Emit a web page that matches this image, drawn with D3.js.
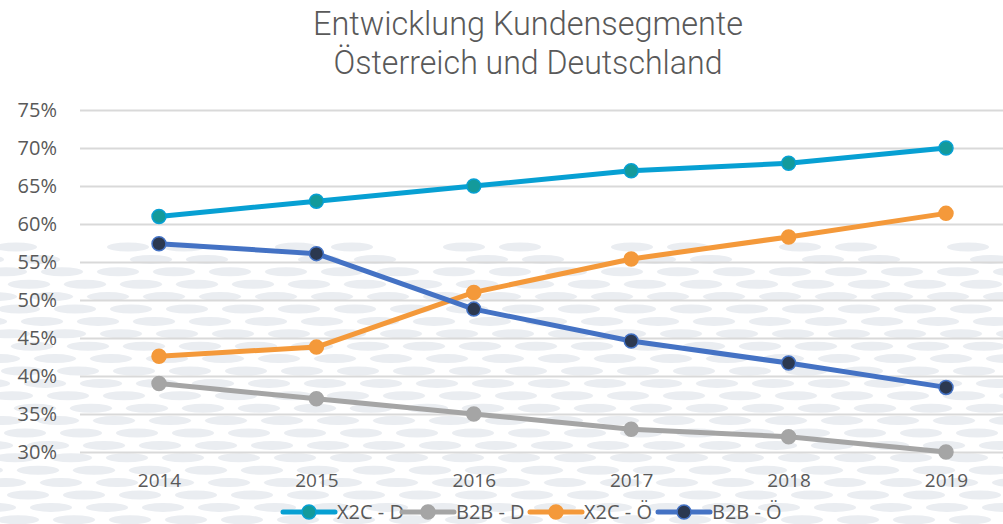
<!DOCTYPE html>
<html lang="de">
  <head>
    <meta charset="utf-8">
    <title>Entwicklung Kundensegmente</title>
    <script src="https://cdn.jsdelivr.net/npm/d3@7"></script>
    <style>
      body { margin: 0; background: #fff; }
      text { font-family: "Open Sans", sans-serif; fill: #595959; }
      .title { font-family: Roboto, sans-serif; font-weight: 300; }
    </style>
  </head>

  <body>
    <div id="chart"></div>

    <script>
      // chart values
      const years = ["2014", "2015", "2016", "2017", "2018", "2019"];
      const seriesNames = ["X2C - D", "B2B - D", "X2C - Ö", "B2B - Ö"];
      const x2cD = [61, 63, 65, 67, 68, 70];
      const b2bD = [39, 37, 35, 33, 32, 30];
      const x2cOe = [42.6, 43.8, 51.0, 55.4, 58.3, 61.4];
      const b2bOe = [57.4, 56.1, 48.8, 44.6, 41.7, 38.5];
      const yTicks = [30, 35, 40, 45, 50, 55, 60, 65, 70, 75];
      const titleLines = ["Entwicklung Kundensegmente", "Österreich und Deutschland"];

      // styles per series
      const styles = [
        {line: "#07a0d3", fill: "#139a9b", stroke: "#07a0d3"},
        {line: "#a5a5a5", fill: "#a5a5a5", stroke: "#a5a5a5"},
        {line: "#f4993a", fill: "#f4993a", stroke: "#f4993a"},
        {line: "#4472c4", fill: "#2b3850", stroke: "#4472c4"}
      ];
      const allValues = [x2cD, b2bD, x2cOe, b2bOe];

      const W = 1003, H = 524;
      const svg = d3.select("#chart").append("svg")
        .attr("width", W).attr("height", H);

      // background ellipse texture
      const bg = svg.append("g");
      let row = 0;
      for (let yy = 247; yy < H + 6; yy += 12.4) {
        const shift = (row * 23) % 56;
        for (let xx = -40 + shift; xx < W + 40; xx += 56) {
          if (row < 2 && ((xx + row * 7) % 3 === 0)) continue;
          bg.append("ellipse")
            .attr("cx", xx).attr("cy", yy)
            .attr("rx", 21).attr("ry", 4.5)
            .attr("fill", "#eaedf1");
        }
        row++;
      }

      // scales
      const x = d3.scalePoint().domain(years).range([159, 946]);
      const y = d3.scaleLinear().domain([30, 75]).range([452, 110]);

      // gridlines
      svg.append("g")
        .attr("transform", "translate(80,0)")
        .call(d3.axisRight(y).tickValues(yTicks).tickSize(W - 80).tickFormat(""))
        .call(g => g.select(".domain").remove())
        .call(g => g.selectAll("line").attr("stroke", "#d9d9d9").attr("stroke-width", 2));

      // y axis labels
      svg.append("g")
        .attr("transform", "translate(59,0)")
        .call(d3.axisLeft(y).tickValues(yTicks).tickSize(0).tickPadding(2).tickFormat(d => d + "%"))
        .call(g => g.select(".domain").remove())
        .call(g => g.selectAll("text").attr("font-size", 20).style("font-family", '"Open Sans", sans-serif').attr("fill", "#595959"));

      // x axis labels
      svg.append("g")
        .attr("transform", "translate(0,469)")
        .call(d3.axisBottom(x).tickSize(0).tickPadding(4))
        .call(g => g.select(".domain").remove())
        .call(g => g.selectAll("text").attr("font-size", 19).style("font-family", '"Open Sans", sans-serif').attr("fill", "#595959"));

      // lines and markers
      const line = d3.line()
        .x((d, i) => x(years[i]))
        .y(d => y(d));

      allValues.forEach(function(vals, k) {
        const s = styles[k];
        svg.append("path")
          .datum(vals)
          .attr("fill", "none")
          .attr("stroke", s.line)
          .attr("stroke-width", 5)
          .attr("stroke-linejoin", "round")
          .attr("d", line);
        svg.append("g").selectAll("circle")
          .data(vals)
          .join("circle")
            .attr("cx", (d, i) => x(years[i]))
            .attr("cy", d => y(d))
            .attr("r", 7)
            .attr("fill", s.fill)
            .attr("stroke", s.stroke)
            .attr("stroke-width", 1.5);
      });

      // title (condensed to match the original narrow face)
      const titleWidths = [430, 389];
      svg.append("g").selectAll("text")
        .data(titleLines)
        .join("text")
          .attr("class", "title")
          .attr("x", 528)
          .attr("y", (d, i) => 35 + i * 39)
          .attr("text-anchor", "middle")
          .attr("font-size", 34)
          .attr("textLength", (d, i) => titleWidths[i])
          .attr("lengthAdjust", "spacingAndGlyphs")
          .attr("fill", "#595959")
          .text(d => d);

      // legend
      const legendX = [283, 402, 530, 658];
      const leg = svg.append("g").selectAll("g")
        .data(seriesNames)
        .join("g")
          .attr("transform", (d, i) => "translate(" + legendX[i] + ",512)");
      leg.append("line")
        .attr("x1", 0).attr("x2", 52)
        .attr("stroke", (d, i) => styles[i].line)
        .attr("stroke-width", 5)
        .attr("stroke-linecap", "round");
      leg.append("circle")
        .attr("cx", 26).attr("r", 7)
        .attr("fill", (d, i) => styles[i].fill)
        .attr("stroke", (d, i) => styles[i].stroke)
        .attr("stroke-width", 1.5);
      leg.append("text")
        .attr("x", 54).attr("y", 7)
        .attr("font-size", 20)
        .text(d => d);
    </script>
  </body>
</html>
